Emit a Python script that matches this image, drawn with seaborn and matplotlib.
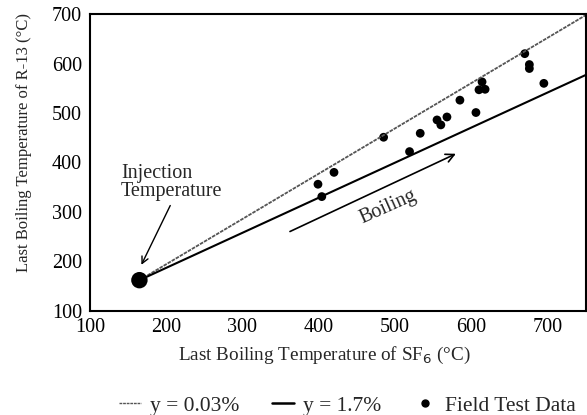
import matplotlib
matplotlib.use("Agg")
import matplotlib.pyplot as plt
import seaborn as sns
import pandas as pd
from matplotlib.lines import Line2D

# --- DATA ---
sf6_temp = [399, 404, 420, 485, 519, 533, 555, 560, 568, 585, 606, 614, 610, 618, 670, 676, 676, 695]
r13_temp = [356, 331, 380, 451, 422, 459, 486, 476, 492, 526, 501, 563, 547, 548, 620, 598, 590, 560]

inj_x = [165]
inj_y = [162]

# model lines (start at injection point)
line_x = [165, 750]
line_low_y = [162, 698]   # y = 0.03%
line_high_y = [162, 577]  # y = 1.7%

sns.set_style("white")
plt.rcParams['font.family'] = ['Liberation Serif', 'DejaVu Serif']

fig = plt.figure(figsize=(5.87, 4.15), dpi=100)
ax = fig.add_axes([0.153, 0.251, 0.845, 0.715])

df = pd.DataFrame({'sf6': sf6_temp, 'r13': r13_temp})

sns.lineplot(x=line_x, y=line_low_y, ax=ax, color='#555555', linewidth=1.3,
             linestyle=(0, (2, 0.6)))
sns.lineplot(x=line_x, y=line_high_y, ax=ax, color='black', linewidth=1.5)
sns.scatterplot(data=df, x='sf6', y='r13', ax=ax, color='black', s=40, edgecolor='none')
sns.scatterplot(x=inj_x, y=inj_y, ax=ax, color='black', s=140, edgecolor='none', zorder=5)

ax.set_xlim(100, 750)
ax.set_ylim(100, 700)
ax.set_xticks([100, 200, 300, 400, 500, 600, 700])
ax.set_yticks([100, 200, 300, 400, 500, 600, 700])
ax.tick_params(direction='inout', length=7, width=1.2, labelsize=14.5, colors='black', pad=2)
for s in ax.spines.values():
    s.set_linewidth(1.5)
    s.set_color('black')

ax.set_xlabel('Last Boiling Temperature of SF$_6$ (°C)', fontsize=13.8)
ax.set_ylabel('Last Boiling Temperature of R-13 (°C)', fontsize=12)
ax.xaxis.set_label_coords(0.473, -0.115)
ax.yaxis.set_label_coords(-0.117, 0.566)

# annotations
ax.annotate('', xy=(583, 420), xytext=(359, 258),
            arrowprops=dict(arrowstyle='->', color='black', lw=1.2, mutation_scale=15))
ax.text(491, 310, 'Boiling', rotation=24, fontsize=14.5, ha='center', va='center')
ax.text(141, 359, 'Injection\nTemperature', fontsize=14.5, ha='left', va='center', linespacing=0.95)
ax.annotate('', xy=(166, 188), xytext=(207, 318),
            arrowprops=dict(arrowstyle='->', color='black', lw=1.0, mutation_scale=12))

handles = [
    Line2D([], [], color='#555555', linewidth=1.0, linestyle=(0, (2, 0.6))),
    Line2D([], [], color='black', linewidth=1.8),
    Line2D([], [], color='black', marker='o', markersize=5, linestyle='none'),
]
labels = ['y = 0.03%', 'y = 1.7%', 'Field Test Data']
fig.legend(handles, labels, loc='center', bbox_to_anchor=(0.592, 0.022), ncol=3,
           frameon=False, fontsize=15.5, handlelength=1.0, handletextpad=0.45, columnspacing=1.5)

fig.savefig('out.png', dpi=100)
